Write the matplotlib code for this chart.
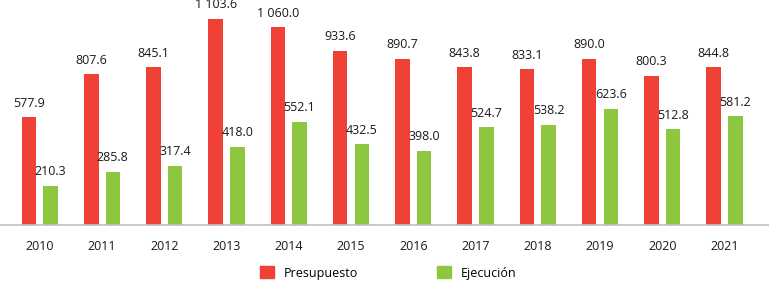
import numpy as np
import matplotlib.pyplot as plt
from matplotlib.patches import Patch

# datos
years = ['2010', '2011', '2012', '2013', '2014', '2015', '2016', '2017', '2018', '2019', '2020', '2021']
presupuesto = [577.9, 807.6, 845.1, 1103.6, 1060.0, 933.6, 890.7, 843.8, 833.1, 890.0, 800.3, 844.8]
ejecucion = [210.3, 285.8, 317.4, 418.0, 552.1, 432.5, 398.0, 524.7, 538.2, 623.6, 512.8, 581.2]

c_red = '#EF4136'
c_green = '#8DC63F'

plt.rcParams['font.family'] = ['Open Sans', 'DejaVu Sans']

fig = plt.figure(figsize=(7.69, 2.84), dpi=100)
ax = fig.add_axes([0, 59 / 284, 1, 225 / 284])

x = np.arange(len(years))
w = 0.233
off = 0.173


def fmt(v):
    s = f'{v:,.1f}'
    return s.replace(',', ' ')


b1 = ax.bar(x - off, presupuesto, w, color=c_red)
b2 = ax.bar(x + off, ejecucion, w, color=c_green)

for xi, v in zip(x, presupuesto):
    ax.text(xi - off, v + 40, fmt(v), ha='center', va='bottom', fontsize=9, color='#1a1a1a')
for xi, v in zip(x, ejecucion):
    ax.text(xi + off, v + 40, fmt(v), ha='center', va='bottom', fontsize=9, color='#1a1a1a')

ax.set_xlim(-0.639, 11.715)
ax.set_ylim(0, 1205)
ax.set_xticks(x)
ax.set_xticklabels(years, fontsize=9, color='#1a1a1a')
ax.tick_params(axis='x', length=0, pad=11)
ax.set_yticks([])
for s in ['top', 'right', 'left']:
    ax.spines[s].set_visible(False)
ax.spines['bottom'].set_color('#c0c0c0')
ax.spines['bottom'].set_linewidth(1.2)

handles = [Patch(color=c_red, label='Presupuesto'), Patch(color=c_green, label='Ejecución')]
fig.legend(handles=handles, loc='center left', bbox_to_anchor=(260 / 769, 11 / 284), ncol=2,
           frameon=False, fontsize=9, handlelength=1.1, handleheight=1.1,
           handletextpad=0.8, columnspacing=6.3, borderaxespad=0, borderpad=0)

fig.savefig('out.png', dpi=100)
